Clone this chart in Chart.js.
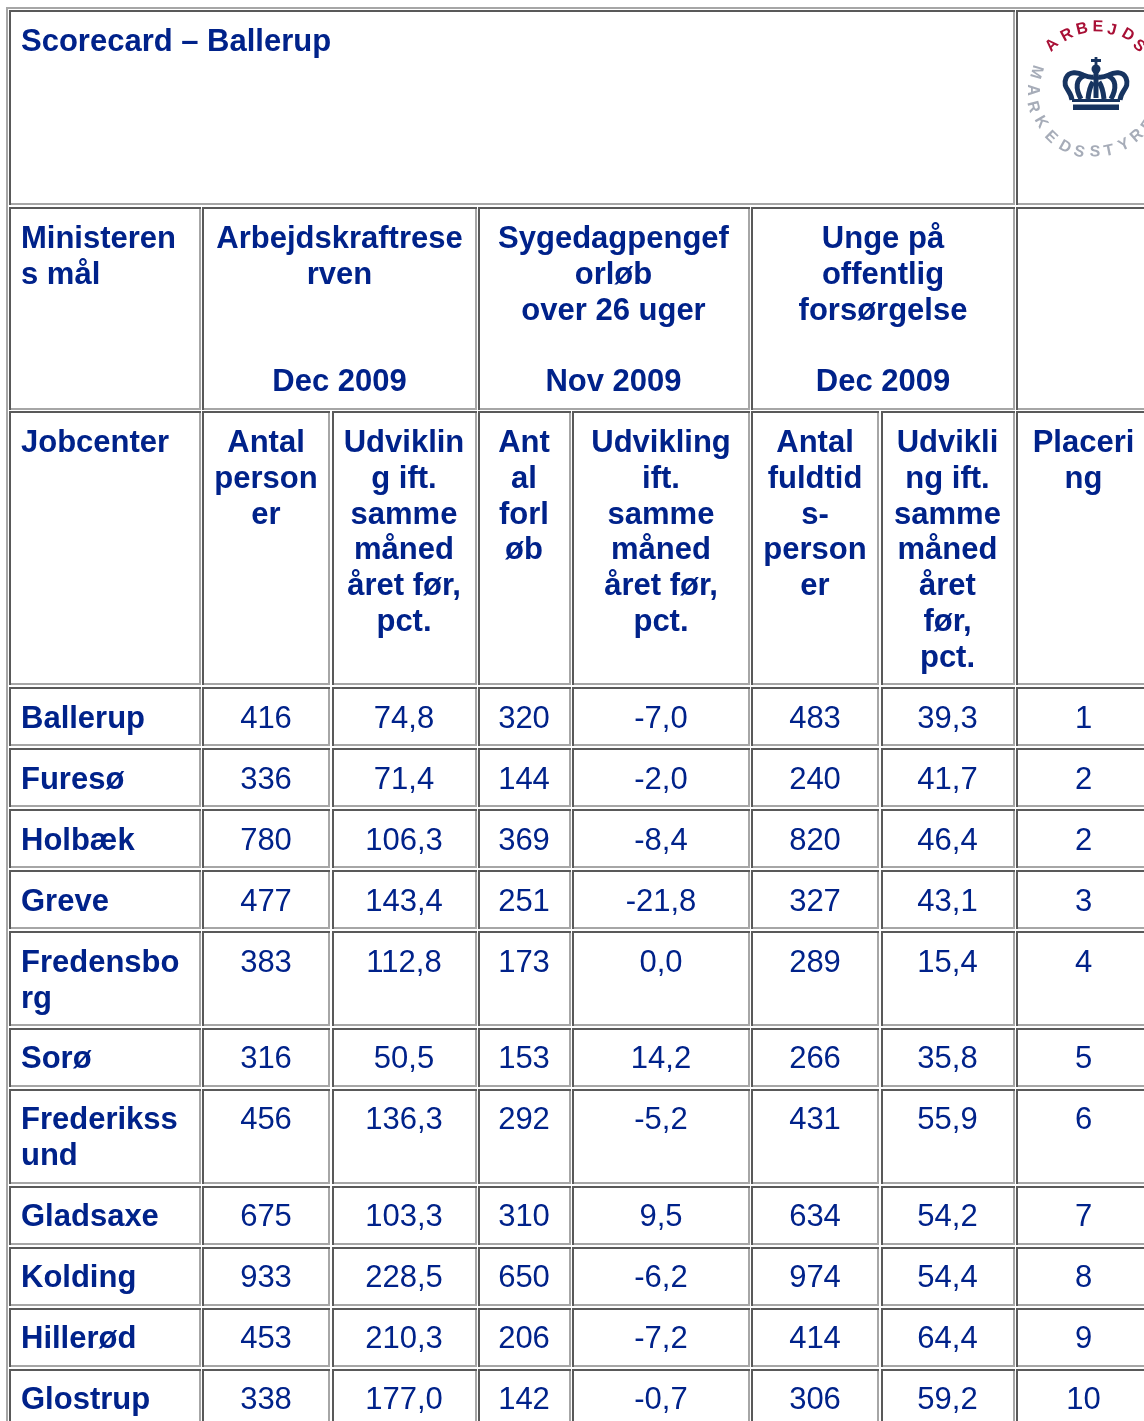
<!DOCTYPE html>
<html>
<head>
<meta charset="utf-8">
<title>Scorecard – Ballerup</title>
<script src="https://cdn.jsdelivr.net/npm/chart.js@4"></script>
<style>
  html, body { margin: 0; padding: 0; background: #fff; overflow: hidden; }
  canvas { display: block; }
</style>
</head>
<body>
<canvas id="table" width="1144" height="1421"></canvas>
<script>
// table values
const jobcenters = ['Ballerup', 'Furesø', 'Holbæk', 'Greve', 'Fredensbo\nrg', 'Sorø', 'Frederikss\nund', 'Gladsaxe', 'Kolding', 'Hillerød', 'Glostrup'];
const antalPersoner = [416, 336, 780, 477, 383, 316, 456, 675, 933, 453, 338];
const udviklingPersoner = [74.8, 71.4, 106.3, 143.4, 112.8, 50.5, 136.3, 103.3, 228.5, 210.3, 177.0];
const antalForloeb = [320, 144, 369, 251, 173, 153, 292, 310, 650, 206, 142];
const udviklingForloeb = [-7.0, -2.0, -8.4, -21.8, 0.0, 14.2, -5.2, 9.5, -6.2, -7.2, -0.7];
const antalFuldtid = [483, 240, 820, 327, 289, 266, 431, 634, 974, 414, 306];
const udviklingFuldtid = [39.3, 41.7, 46.4, 43.1, 15.4, 35.8, 55.9, 54.2, 54.4, 64.4, 59.2];
const placering = [1, 2, 2, 3, 4, 5, 6, 7, 8, 9, 10];

const titleText = 'Scorecard – Ballerup';
const goalHeadings = ['Ministeren\ns mål', 'Arbejdskraftrese\nrven', 'Sygedagpengef\norløb\nover 26 uger', 'Unge på\noffentlig\nforsørgelse'];
const goalDates = ['', 'Dec 2009', 'Nov 2009', 'Dec 2009'];
const columnHeadings = ['Jobcenter', 'Antal\nperson\ner', 'Udviklin\ng ift.\nsamme\nmåned\nåret før,\npct.', 'Ant\nal\nforl\nøb', 'Udvikling\nift.\nsamme\nmåned\nåret før,\npct.', 'Antal\nfuldtid\ns-\nperson\ner', 'Udvikli\nng ift.\nsamme\nmåned\nåret\nfør,\npct.', 'Placeri\nng'];

// layout of the grid, in page pixels
const colLeft = [9, 202, 332, 478, 572, 751, 881, 1016];
const colRight = [201, 330, 477, 571, 750, 879, 1015, 1160];
const colText = [21, 266, 404, 524, 661, 815, 947.5, 1083.5];
const goalText = [21, 339.5, 613.5, 883];
const rowTop = [687, 748, 809, 870, 931, 1028, 1089, 1186, 1247, 1308, 1369];
const rowBottom = [746, 807, 868, 929, 1026, 1087, 1184, 1245, 1306, 1367, 1430];
const rowBase = [728, 789, 850, 911, 972, 1068, 1129, 1226, 1287, 1348, 1409];
const LINE = 35.75;
const NAVY = '#00228a';

function addLines(list, text, x, base) {
  text.split('\n').forEach((label, i) => {
    list.push({ x: x, y: Math.round(base + i * LINE), label: label });
  });
}

// one L of dark edge and one L of light edge per cell
function addCell(dark, light, l, r, t, b) {
  dark.push({ x: l + 1, y: b }, { x: l + 1, y: t + 1 }, { x: r, y: t + 1 }, { x: null, y: null });
  light.push({ x: r - 1, y: t }, { x: r - 1, y: b - 1 }, { x: l, y: b - 1 }, { x: null, y: null });
}

const darkEdges = [];
const lightEdges = [];
const boldLeft = [];
const boldCentre = [];
const plain = [];

// title row
addCell(darkEdges, lightEdges, 9, 1015, 10, 205);
addCell(darkEdges, lightEdges, 1016, 1160, 10, 205);
addLines(boldLeft, titleText, 21, 51);

// goal row
const goalLeft = [0, 1, 3, 5, 7];
const goalRight = [0, 2, 4, 6, 7];
goalLeft.forEach((c, i) => {
  addCell(darkEdges, lightEdges, colLeft[c], colRight[goalRight[i]], 207, 410);
});
addLines(boldLeft, goalHeadings[0], goalText[0], 248);
for (let i = 1; i < 4; ++i) {
  addLines(boldCentre, goalHeadings[i], goalText[i], 248);
  addLines(boldCentre, goalDates[i], goalText[i], 391);
}

// column heading row
columnHeadings.forEach((text, c) => {
  addCell(darkEdges, lightEdges, colLeft[c], colRight[c], 411, 685);
  addLines(c === 0 ? boldLeft : boldCentre, text, colText[c], 452);
});

// value rows
const comma = v => v.toFixed(1).replace('.', ',');
const rowValues = [antalPersoner, udviklingPersoner.map(comma), antalForloeb, udviklingForloeb.map(comma), antalFuldtid, udviklingFuldtid.map(comma), placering];
jobcenters.forEach((name, r) => {
  colLeft.forEach((l, c) => addCell(darkEdges, lightEdges, l, colRight[c], rowTop[r], rowBottom[r]));
  addLines(boldLeft, name, colText[0], rowBase[r]);
  rowValues.forEach((values, c) => addLines(plain, String(values[r]), colText[c + 1], rowBase[r]));
});

// outer table border, only its top and left side are on the page
const outerEdge = [{ x: 7, y: 1430 }, { x: 7, y: 8 }, { x: 1160, y: 8 }];

const edgeSet = (data, color) => ({
  type: 'scatter', data: data, showLine: true, spanGaps: false, borderColor: color,
  borderWidth: 2, pointRadius: 0, tension: 0, borderCapStyle: 'butt', borderJoinStyle: 'miter'
});
const textSet = (data, font, align) => ({ type: 'scatter', data: data, pointRadius: 0, showLine: false, textFont: font, textAlign: align });

// letters of the seal, page position of each one
const redLetters = [['A', 1052, 45], ['R', 1067, 35], ['B', 1082, 29], ['E', 1098, 27], ['J', 1112, 30], ['D', 1128, 35], ['S', 1139, 46]];
const greyLetters = [['M', 1036, 72], ['A', 1032, 90], ['R', 1033, 107], ['K', 1041, 122], ['E', 1051, 137], ['D', 1065, 147], ['S', 1079, 152], ['S', 1095, 152], ['T', 1109, 151], ['Y', 1124, 145], ['R', 1137, 136], ['E', 1148, 125]];

function drawSeal(ctx, sx, sy) {
  const cx = sx(1097), cy = sy(90);
  ctx.save();
  ctx.filter = 'blur(0.6px)';
  ctx.textAlign = 'center';
  ctx.textBaseline = 'middle';
  ctx.font = 'bold 16px "Liberation Sans"';
  ctx.fillStyle = '#a80f35';
  redLetters.forEach(([ch, x, y]) => {
    ctx.save();
    ctx.translate(sx(x), sy(y));
    ctx.rotate(Math.atan2(sy(y) - cy, sx(x) - cx) + Math.PI / 2);
    ctx.fillText(ch, 0, 0);
    ctx.restore();
  });
  ctx.font = 'bold 16px "Liberation Sans"';
  ctx.fillStyle = '#a6acb8';
  greyLetters.forEach(([ch, x, y]) => {
    ctx.save();
    ctx.translate(sx(x), sy(y));
    ctx.rotate(Math.atan2(sy(y) - cy, sx(x) - cx) - Math.PI / 2);
    ctx.fillText(ch, 0, 0);
    ctx.restore();
  });

  // crown, drawn for the left half and mirrored
  const mid = sx(1096);
  ctx.strokeStyle = ctx.fillStyle = '#173460';
  ctx.lineWidth = 5;
  [1, -1].forEach(side => {
    ctx.save();
    ctx.translate(mid, 0);
    ctx.scale(side, 1);
    ctx.beginPath();
    ctx.moveTo(-24, 100);
    ctx.bezierCurveTo(-25, 90, -34, 88, -30, 78);
    ctx.bezierCurveTo(-27, 71, -18, 72, -13, 75);
    ctx.quadraticCurveTo(-6, 78, -2, 77);
    ctx.moveTo(-15, 99);
    ctx.bezierCurveTo(-21, 88, -20, 79, -12, 76);
    ctx.moveTo(-8, 99);
    ctx.quadraticCurveTo(-7, 88, -3, 82);
    ctx.stroke();
    ctx.restore();
  });
  ctx.lineWidth = 5;
  ctx.beginPath();
  ctx.moveTo(mid, 98);
  ctx.lineTo(mid, 72);
  ctx.stroke();
  ctx.beginPath();
  ctx.arc(mid, 69, 4.5, 0, Math.PI * 2);
  ctx.fill();
  ctx.lineWidth = 2.8;
  ctx.beginPath();
  ctx.moveTo(mid, 57);
  ctx.lineTo(mid, 66);
  ctx.moveTo(mid - 5, 60.5);
  ctx.lineTo(mid + 5, 60.5);
  ctx.stroke();
  ctx.fillRect(mid - 23, 104.5, 46, 5.5);
  ctx.fillRect(mid - 24, 99, 48, 3);
  ctx.restore();
}

const cellText = {
  id: 'cellText',
  afterDatasetsDraw(chart) {
    const ctx = chart.ctx;
    const sx = v => chart.scales.x.getPixelForValue(v);
    const sy = v => chart.scales.y.getPixelForValue(v);
    chart.data.datasets.forEach((set, i) => {
      if (!set.textFont) return;
      ctx.save();
      ctx.font = set.textFont;
      ctx.textAlign = set.textAlign;
      ctx.textBaseline = 'alphabetic';
      ctx.fillStyle = NAVY;
      chart.getDatasetMeta(i).data.forEach((pt, j) => {
        ctx.fillText(set.data[j].label, pt.x, pt.y);
      });
      ctx.restore();
    });
    drawSeal(ctx, sx, sy);
  }
};

new Chart(document.getElementById('table'), {
  type: 'scatter',
  data: {
    datasets: [
      edgeSet(outerEdge, '#a6a6a6'),
      edgeSet(darkEdges, '#595959'),
      edgeSet(lightEdges, '#a6a6a6'),
      textSet(boldLeft, 'bold 31px "Liberation Sans"', 'left'),
      textSet(boldCentre, 'bold 31px "Liberation Sans"', 'center'),
      textSet(plain, '31px "Liberation Sans"', 'center')
    ]
  },
  options: {
    responsive: false,
    animation: false,
    layout: { padding: 0 },
    plugins: { legend: { display: false }, tooltip: { enabled: false }, title: { display: false } },
    scales: {
      x: { type: 'linear', min: 0, max: 1144, display: false },
      y: { type: 'linear', min: 0, max: 1421, reverse: true, display: false }
    }
  },
  plugins: [cellText]
});
</script>
</body>
</html>
